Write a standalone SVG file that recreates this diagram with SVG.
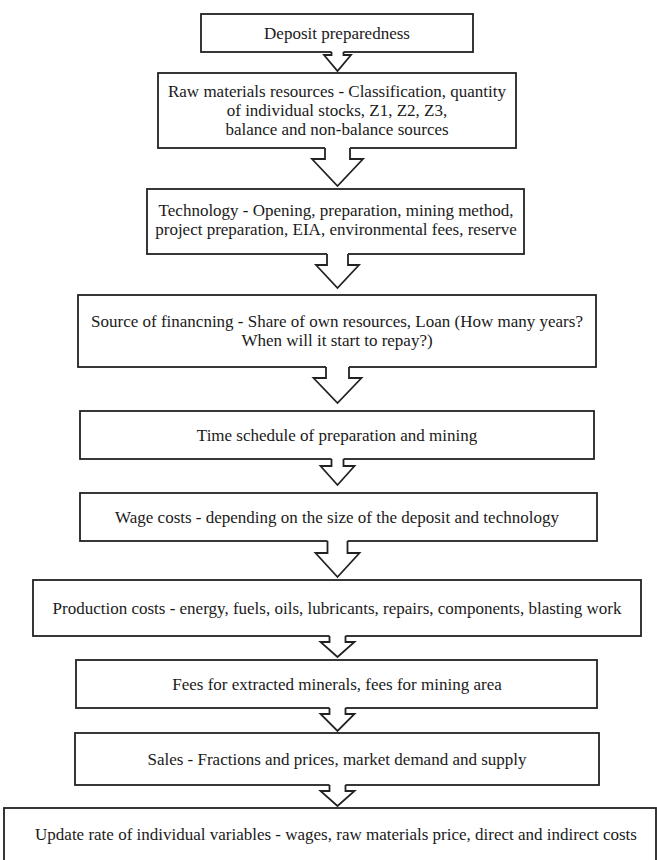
<svg xmlns="http://www.w3.org/2000/svg" width="657" height="860" viewBox="0 0 657 860">
<style>
.box{fill:#fff;stroke:#222;stroke-width:1.8}
.t{font-family:"Liberation Serif","Times New Roman",serif;font-size:17px;fill:#1a1a1a;text-anchor:middle}
.af{fill:#fff;stroke:none}
.as{fill:none;stroke:#222;stroke-width:1.8;stroke-linejoin:miter}
</style>
<rect width="657" height="860" fill="#fff"/>
<g id="n1"><rect class="box" x="201" y="14" width="272" height="38"/><text class="t" x="337" y="38.5">Deposit preparedness</text></g>
<g id="n2"><rect class="box" x="158" y="73" width="358" height="75"/>
<text class="t" x="337" y="97">Raw materials resources - Classification, quantity</text>
<text class="t" x="337" y="116">of individual stocks, Z1, Z2, Z3,</text>
<text class="t" x="337" y="135">balance and non-balance sources</text></g>
<g id="n3"><rect class="box" x="147" y="189" width="377" height="65"/>
<text class="t" x="336" y="216">Technology - Opening, preparation, mining method,</text>
<text class="t" x="336" y="235">project preparation, EIA, environmental fees, reserve</text></g>
<g id="n4"><rect class="box" x="78" y="295" width="518" height="72"/>
<text class="t" x="337" y="327">Source of financning - Share of own resources, Loan (How many years?</text>
<text class="t" x="337" y="346">When will it start to repay?)</text></g>
<g id="n5"><rect class="box" x="80" y="411" width="514" height="48"/><text class="t" x="337" y="440.5">Time schedule of preparation and mining</text></g>
<g id="n6"><rect class="box" x="80" y="493" width="517" height="48"/><text class="t" x="337" y="522.5">Wage costs - depending on the size of the deposit and technology</text></g>
<g id="n7"><rect class="box" x="33" y="580" width="608" height="56"/><text class="t" x="337" y="613.5">Production costs - energy, fuels, oils, lubricants, repairs, components, blasting work</text></g>
<g id="n8"><rect class="box" x="76" y="660" width="521" height="48"/><text class="t" x="337" y="689.5">Fees for extracted minerals, fees for mining area</text></g>
<g id="n9"><rect class="box" x="75" y="733" width="524" height="52"/><text class="t" x="337" y="764.5">Sales - Fractions and prices, market demand and supply</text></g>
<g id="n10"><rect class="box" x="4" y="808" width="652" height="56"/><text class="t" x="336" y="840">Update rate of individual variables - wages, raw materials price, direct and indirect costs</text></g>
<g id="connectors">
<g><polygon class="af" points="331.5,51 331.5,55 324,55 337.5,71 351,55 343.5,55 343.5,51"/><polyline class="as" points="331.5,52 331.5,55 324,55 337.5,71 351,55 343.5,55 343.5,52"/></g>
<g><polygon class="af" points="325,147 325,159 312,159 337.5,186 363,159 350,159 350,147"/><polyline class="as" points="325,148 325,159 312,159 337.5,186 363,159 350,159 350,148"/></g>
<g><polygon class="af" points="327,253 327,265 316,265 337.5,288 359,265 348,265 348,253"/><polyline class="as" points="327,254 327,265 316,265 337.5,288 359,265 348,265 348,254"/></g>
<g><polygon class="af" points="326,366 326,378 313.5,378 337.5,403 361.5,378 349,378 349,366"/><polyline class="as" points="326,367 326,378 313.5,378 337.5,403 361.5,378 349,378 349,367"/></g>
<g><polygon class="af" points="331.5,458 331.5,466 320.5,466 337.5,485 354.5,466 343.5,466 343.5,458"/><polyline class="as" points="331.5,459 331.5,466 320.5,466 337.5,485 354.5,466 343.5,466 343.5,459"/></g>
<g><polygon class="af" points="327.5,540 327.5,553 315.5,553 337.5,577 359.5,553 347.5,553 347.5,540"/><polyline class="as" points="327.5,541 327.5,553 315.5,553 337.5,577 359.5,553 347.5,553 347.5,541"/></g>
<g><polygon class="af" points="329.5,635 329.5,642 320.5,642 337.5,657 354.5,642 345.5,642 345.5,635"/><polyline class="as" points="329.5,636 329.5,642 320.5,642 337.5,657 354.5,642 345.5,642 345.5,636"/></g>
<g><polygon class="af" points="329.5,707 329.5,714 320.5,714 337.5,731 354.5,714 345.5,714 345.5,707"/><polyline class="as" points="329.5,708 329.5,714 320.5,714 337.5,731 354.5,714 345.5,714 345.5,708"/></g>
<g><polygon class="af" points="329.5,784 329.5,791 320.5,791 337.5,806 354.5,791 345.5,791 345.5,784"/><polyline class="as" points="329.5,785 329.5,791 320.5,791 337.5,806 354.5,791 345.5,791 345.5,785"/></g>
</g>
</svg>
